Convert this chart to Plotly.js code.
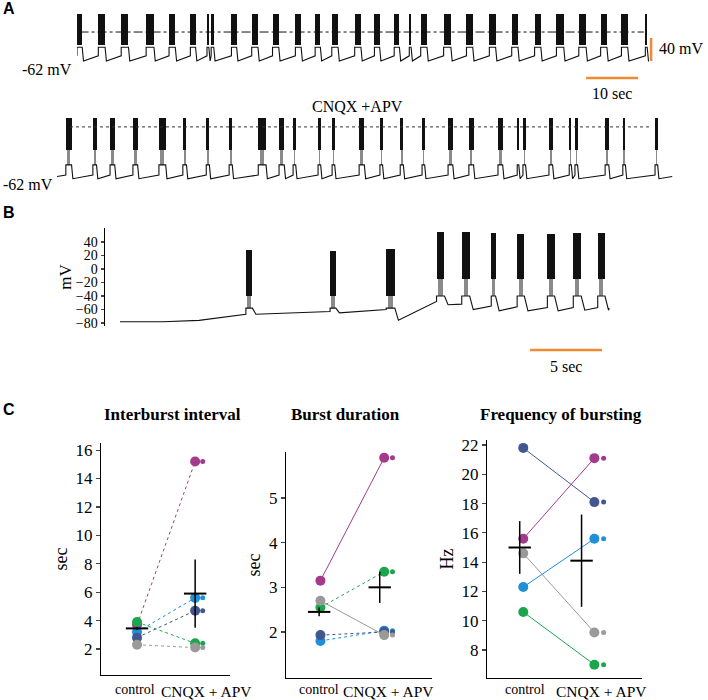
<!DOCTYPE html>
<html>
<head>
<meta charset="utf-8">
<script src="https://cdn.plot.ly/plotly-3.0.1.min.js"></script>
<style>
  body { margin: 0; background: #fff; }
  #chart { width: 708px; height: 700px; }
</style>
</head>
<body>
<div id="chart"></div>
<script>
// ---- Panel A, top trace (control): burst onsets and durations, seconds
const ctrlOnset = [0, 4.1, 8.5, 13.3, 17.7, 21.8, 25.0, 25.8, 29.7, 33.6, 37.6, 42.0, 45.8, 49.0, 53.4,
                   57.2, 61.0, 63.9, 66.1, 70.5, 74.9, 79.3, 83.6, 88.0, 92.2, 96.5, 100.7, 104.7, 109.3];
const ctrlDur   = [1.0, 1.3, 1.4, 1.5, 1.2, 1.0, 0.35, 0.5, 1.0, 1.2, 1.2, 1.1, 1.0, 1.2, 1.2,
                   1.0, 1.0, 0.35, 1.2, 1.4, 1.2, 1.2, 1.2, 1.2, 1.4, 1.4, 1.2, 1.2, 0.35];
const ctrlEnd = 109.8;
// membrane levels, mV: spike peak, bottom of black block, plateau, pre-burst, trough
const ctrlLevels = { peak: 20, black: -34, plat: -38, pre: -53, trough: -62, ref: -11.6 };

// ---- Panel A, bottom trace (CNQX + APV)
const drugOnset = [1.7, 6.9, 10.2, 14.6, 19.6, 24.2, 28.7, 33.1, 38.7, 42.7, 45.4, 50.2, 52.9, 58.1,
                   62.1, 66.0, 70.2, 75.2, 79.2, 84.8, 88.5, 89.6, 94.6, 98.5, 99.6, 105.4, 108.8, 115.0];
const drugDur   = [1.1, 0.7, 0.9, 0.9, 1.3, 0.7, 0.6, 0.6, 1.5, 1.0, 0.5, 0.5, 0.5, 1.0,
                   0.5, 0.6, 0.5, 0.9, 0.9, 0.9, 0.3, 0.5, 0.7, 0.4, 0.5, 0.7, 0.5, 0.5];
const drugEnd = 118.3;
const drugLevels = { peak: 20, black: -24, plat: -44, pre: -58, trough: -63, ref: 8 };

// ---- Panel B
const bOnset  = [8.75, 14.6, 18.5, 22.0, 23.75, 25.8, 27.6, 29.7, 31.5, 33.2];
const bDur    = [0.45, 0.4, 0.6, 0.55, 0.55, 0.3, 0.5, 0.5, 0.55, 0.5];
const bPeak   = [28, 27, 30, 55, 55, 53, 52, 52, 53, 54];
const bBlack  = [-40, -40, -40, -15, -15, -15, -15, -15, -15, -15];
const bPlat   = [-58, -58, -58, -40, -40, -40, -40, -40, -40, -40];
const bPre    = [-67, -63, -60, -48, -52, -55, -56, -57, -57, -57];
const bTrough = [-67, -65, -76, -53, -60, -62, -62, -62, -61, -61];
const bLeadT = [0, 3, 5.5, 7, 8.5];
const bLeadV = [-78, -78, -76, -72, -68];
const bEndT = 34.0, bEndV = -58;
const bTicks = [-80, -60, -40, -20, 0, 20, 40];

// ---- Panel C: subjects in order magenta, light blue, dark blue, green, gray
const subjColors = ['#a33a8c', '#1f8fd8', '#42578f', '#1ba64c', '#9a9a9a'];
const groups = ['control', 'CNQX + APV'];

const ibiCtrl = [3.7, 3.2, 2.8, 3.9, 2.3];
const ibiDrug = [15.2, 5.6, 4.7, 2.4, 2.1];
const ibiMean = [3.45, 5.9];
const ibiErr  = [0.1, 2.4];

const durCtrl = [3.15, 1.8, 1.93, 2.55, 2.7];
const durDrug = [5.9, 2.03, 2.0, 3.35, 1.93];
const durMean = [2.45, 3.0];
const durErr  = [0.1, 0.35];

const freqCtrl = [15.6, 12.3, 21.8, 10.6, 14.6];
const freqDrug = [21.1, 15.6, 18.1, 7.0, 9.2];
const freqMean = [15.0, 14.1];
const freqErr  = [1.8, 3.15];

const SERIF = 'Liberation Serif, Times New Roman, serif';
const SANS = 'Liberation Sans, Arial, sans-serif';
const ORANGE = '#f08a32';

const W = 708, H = 700;
const px = v => v / W;
const py = v => 1 - v / H;
const domX = (a, b) => [px(a), px(b)];
const domY = (top, bottom) => [py(bottom), py(top)];
const pick = (a, i) => Array.isArray(a) ? a[i] : a;

// membrane potential path: baseline -> plateau during burst -> trough after it
function buildPath(leadT, leadV, onset, dur, pre, plat, trough, endT, endV) {
  const t = leadT.slice(), v = leadV.slice();
  onset.forEach((t0, i) => {
    const t1 = t0 + dur[i];
    t.push(t0, t0, t1, t1 + 0.25);
    v.push(pick(pre, i), pick(plat, i), pick(plat, i), pick(trough, i));
  });
  t.push(endT);
  v.push(endV);
  return { t, v };
}

const traces = [];

function addRecording(xa, ya, path, onset, dur, peak, black, plat, withBase) {
  traces.push({
    type: 'scatter', mode: 'lines', x: path.t, y: path.v, xaxis: xa, yaxis: ya,
    line: { color: '#111', width: 1.1 }, hoverinfo: 'skip'
  });
  if (withBase) {
    traces.push({
      type: 'bar', x: onset.map((t, i) => t + dur[i] / 2), width: dur.map(d => d * 0.55),
      base: onset.map((t, i) => pick(plat, i)),
      y: onset.map((t, i) => pick(black, i) - pick(plat, i)),
      xaxis: xa, yaxis: ya, marker: { color: '#8a8a8a', line: { width: 0 } }, hoverinfo: 'skip'
    });
  }
  traces.push({
    type: 'bar', x: onset.map((t, i) => t + dur[i] / 2), width: dur,
    base: onset.map((t, i) => pick(black, i)),
    y: onset.map((t, i) => pick(peak, i) - pick(black, i)),
    xaxis: xa, yaxis: ya, marker: { color: '#111', line: { width: 0 } }, hoverinfo: 'skip'
  });
}

const pathA1 = buildPath([0], [ctrlLevels.pre], ctrlOnset, ctrlDur, ctrlLevels.pre, ctrlLevels.plat,
                         ctrlLevels.trough, ctrlEnd, ctrlLevels.trough);
addRecording('x', 'y', pathA1, ctrlOnset, ctrlDur, ctrlLevels.peak, ctrlLevels.black, ctrlLevels.plat, false);

const pathA2 = buildPath([0], [-60], drugOnset, drugDur, drugLevels.pre, drugLevels.plat,
                         drugLevels.trough, drugEnd, -60);
addRecording('x2', 'y2', pathA2, drugOnset, drugDur, drugLevels.peak, drugLevels.black, drugLevels.plat, true);

const pathB = buildPath(bLeadT, bLeadV, bOnset, bDur, bPre, bPlat, bTrough, bEndT, bEndV);
addRecording('x3', 'y3', pathB, bOnset, bDur, bPeak, bBlack, bPlat, true);

// ---- panel C dot plots
const panels = [
  { xa: 'x4', ya: 'y4', ctrl: ibiCtrl, drug: ibiDrug, mean: ibiMean, err: ibiErr,
    dash: ['dot', 'dot', 'dot', 'dot', 'dot'], meanX: [1, 2], labelX: [0.97, 2.2] },
  { xa: 'x5', ya: 'y5', ctrl: durCtrl, drug: durDrug, mean: durMean, err: durErr,
    dash: ['solid', 'dot', 'dot', 'dot', 'solid'], meanX: [0.98, 1.93], labelX: [0.97, 2.06] },
  { xa: 'x6', ya: 'y6', ctrl: freqCtrl, drug: freqDrug, mean: freqMean, err: freqErr,
    dash: ['solid', 'solid', 'solid', 'solid', 'solid'], meanX: [0.95, 1.82], labelX: [1.03, 2.1] }
];

panels.forEach(p => {
  p.ctrl.forEach((c, i) => {
    traces.push({
      type: 'scatter', mode: 'lines+markers', x: [1, 2], y: [c, p.drug[i]],
      xaxis: p.xa, yaxis: p.ya, cliponaxis: false,
      line: { color: subjColors[i], width: 1, dash: p.dash[i] },
      marker: { color: subjColors[i], size: 10 }, hoverinfo: 'skip'
    });
  });
  traces.push({
    type: 'scatter', mode: 'markers', x: p.drug.map(() => 2.13), y: p.drug,
    xaxis: p.xa, yaxis: p.ya, cliponaxis: false,
    marker: { color: subjColors, size: 5 }, hoverinfo: 'skip'
  });
  traces.push({
    type: 'scatter', mode: 'markers', x: p.meanX, y: p.mean,
    xaxis: p.xa, yaxis: p.ya, cliponaxis: false,
    marker: { symbol: 'line-ew', size: 16, line: { color: '#000', width: 2 } },
    error_y: { type: 'data', array: p.err, color: '#000', thickness: 1.5, width: 0 },
    hoverinfo: 'skip'
  });
});

const hidden = { visible: false, showgrid: false, zeroline: false, fixedrange: true };

function dotX(domain, range, anchor) {
  return {
    domain, range, anchor, showline: true, linecolor: '#000', linewidth: 1.2,
    showgrid: false, zeroline: false, ticks: '', showticklabels: false
  };
}
function dotY(domain, range, anchor, tickvals, title) {
  return {
    domain, range, anchor, showline: true, linecolor: '#000', linewidth: 1.2,
    showgrid: false, zeroline: false, ticks: 'outside', ticklen: 4, tickwidth: 1.2,
    tickvals, tickfont: { family: SERIF, size: 17, color: '#000' },
    title: { text: title, font: { family: SERIF, size: 18, color: '#000' }, standoff: 3 }
  };
}

const note = (text, x, y, size, opts) => Object.assign({
  text, x: px(x), y: py(y), xref: 'paper', yref: 'paper', showarrow: false,
  font: { family: SERIF, size, color: '#000' }, xanchor: 'center', yanchor: 'middle'
}, opts || {});

const annotations = [
  note('<b>A</b>', 9, 8, 16, { font: { family: SANS, size: 16, color: '#000' } }),
  note('<b>B</b>', 9, 212, 16, { font: { family: SANS, size: 16, color: '#000' } }),
  note('<b>C</b>', 9, 409, 16, { font: { family: SANS, size: 16, color: '#000' } }),
  note('-62 mV', 74, 70, 16, { xanchor: 'right' }),
  note('-62 mV', 55, 184, 16, { xanchor: 'right' }),
  note('40 mV', 657, 48, 16, { xanchor: 'left' }),
  note('10 sec', 612, 93, 16),
  note('CNQX +APV', 357, 106, 16),
  note('5 sec', 566, 367, 16),
  note('<b>Interburst interval</b>', 172, 414, 17),
  note('<b>Burst duration</b>', 345, 414, 17),
  note('<b>Frequency of bursting</b>', 561, 414, 17)
];
// group labels under each dot plot, in the plot's own x units
panels.forEach(p => {
  annotations.push(
    { text: groups[0], xref: p.xa, yref: 'paper', x: p.labelX[0], y: py(680), yanchor: 'top',
      showarrow: false, font: { family: SERIF, size: 14, color: '#000' } },
    { text: groups[1], xref: p.xa, yref: 'paper', x: p.labelX[1], y: py(681), yanchor: 'top',
      showarrow: false, font: { family: SERIF, size: 15.5, color: '#000' } }
  );
});

const layout = {
  width: W, height: H,
  margin: { l: 0, r: 0, t: 0, b: 0 },
  paper_bgcolor: '#fff', plot_bgcolor: 'rgba(0,0,0,0)',
  showlegend: false, barmode: 'overlay', bargap: 0,
  xaxis: Object.assign({ domain: domX(77, 662), range: [0, 112.5], anchor: 'y' }, hidden),
  yaxis: Object.assign({ domain: domY(6, 84), range: [-102, 33.65], anchor: 'x' }, hidden),
  xaxis2: Object.assign({ domain: domX(57, 680), range: [0, 119.8], anchor: 'y2' }, hidden),
  yaxis2: Object.assign({ domain: domY(104, 192), range: [-81.2, 39.4], anchor: 'x2' }, hidden),
  xaxis3: Object.assign({ domain: domX(105, 615), range: [-1.04, 34.4], anchor: 'y3' }, hidden),
  yaxis3: {
    domain: domY(228, 326), range: [-84.4, 60.7], anchor: 'x3',
    showline: true, linecolor: '#000', linewidth: 1.5, showgrid: false, zeroline: false,
    ticks: 'outside', ticklen: 3, tickwidth: 1.5, tickvals: bTicks,
    tickfont: { family: SERIF, size: 14, color: '#000' },
    title: { text: 'mV', font: { family: SERIF, size: 17, color: '#000' }, standoff: 0 }
  },
  xaxis4: dotX(domX(101, 230), [0.38, 2.6], 'y4'),
  yaxis4: dotY(domY(443, 675), [0.17, 16.5], 'x4', [2, 4, 6, 8, 10, 12, 14, 16], 'sec'),
  xaxis5: dotX(domX(286, 432), [0.46, 2.75], 'y5'),
  yaxis5: dotY(domY(452, 678), [0.97, 6.03], 'x5', [2, 3, 4, 5], 'sec'),
  xaxis6: dotX(domX(487, 642), [0.49, 2.67], 'y6'),
  yaxis6: dotY(domY(440, 678), [6.09, 22.34], 'x6', [8, 10, 12, 14, 16, 18, 20, 22], 'Hz'),
  shapes: [
    // reference lines
    { type: 'line', xref: 'x', yref: 'y', x0: 0.5, x1: 109, y0: ctrlLevels.ref, y1: ctrlLevels.ref,
      line: { color: '#111', width: 1, dash: 'dashdot' } },
    { type: 'line', xref: 'x2', yref: 'y2', x0: 2.5, x1: 114, y0: drugLevels.ref, y1: drugLevels.ref,
      line: { color: '#333', width: 1, dash: 'dot' } },
    // scale bars
    { type: 'line', xref: 'x', yref: 'y', x0: 110.4, x1: 110.4, y0: -62, y1: -22,
      line: { color: ORANGE, width: 2.5 } },
    { type: 'line', xref: 'x', yref: 'y', x0: 97.9, x1: 107.9, y0: -91.6, y1: -91.6,
      line: { color: ORANGE, width: 2.5 } },
    { type: 'line', xref: 'x3', yref: 'paper', x0: 28.5, x1: 33.5, y0: py(350), y1: py(350),
      line: { color: ORANGE, width: 2.5 } }
  ],
  annotations
};

Plotly.newPlot('chart', traces, layout, { displayModeBar: false, staticPlot: true });
</script>
</body>
</html>
